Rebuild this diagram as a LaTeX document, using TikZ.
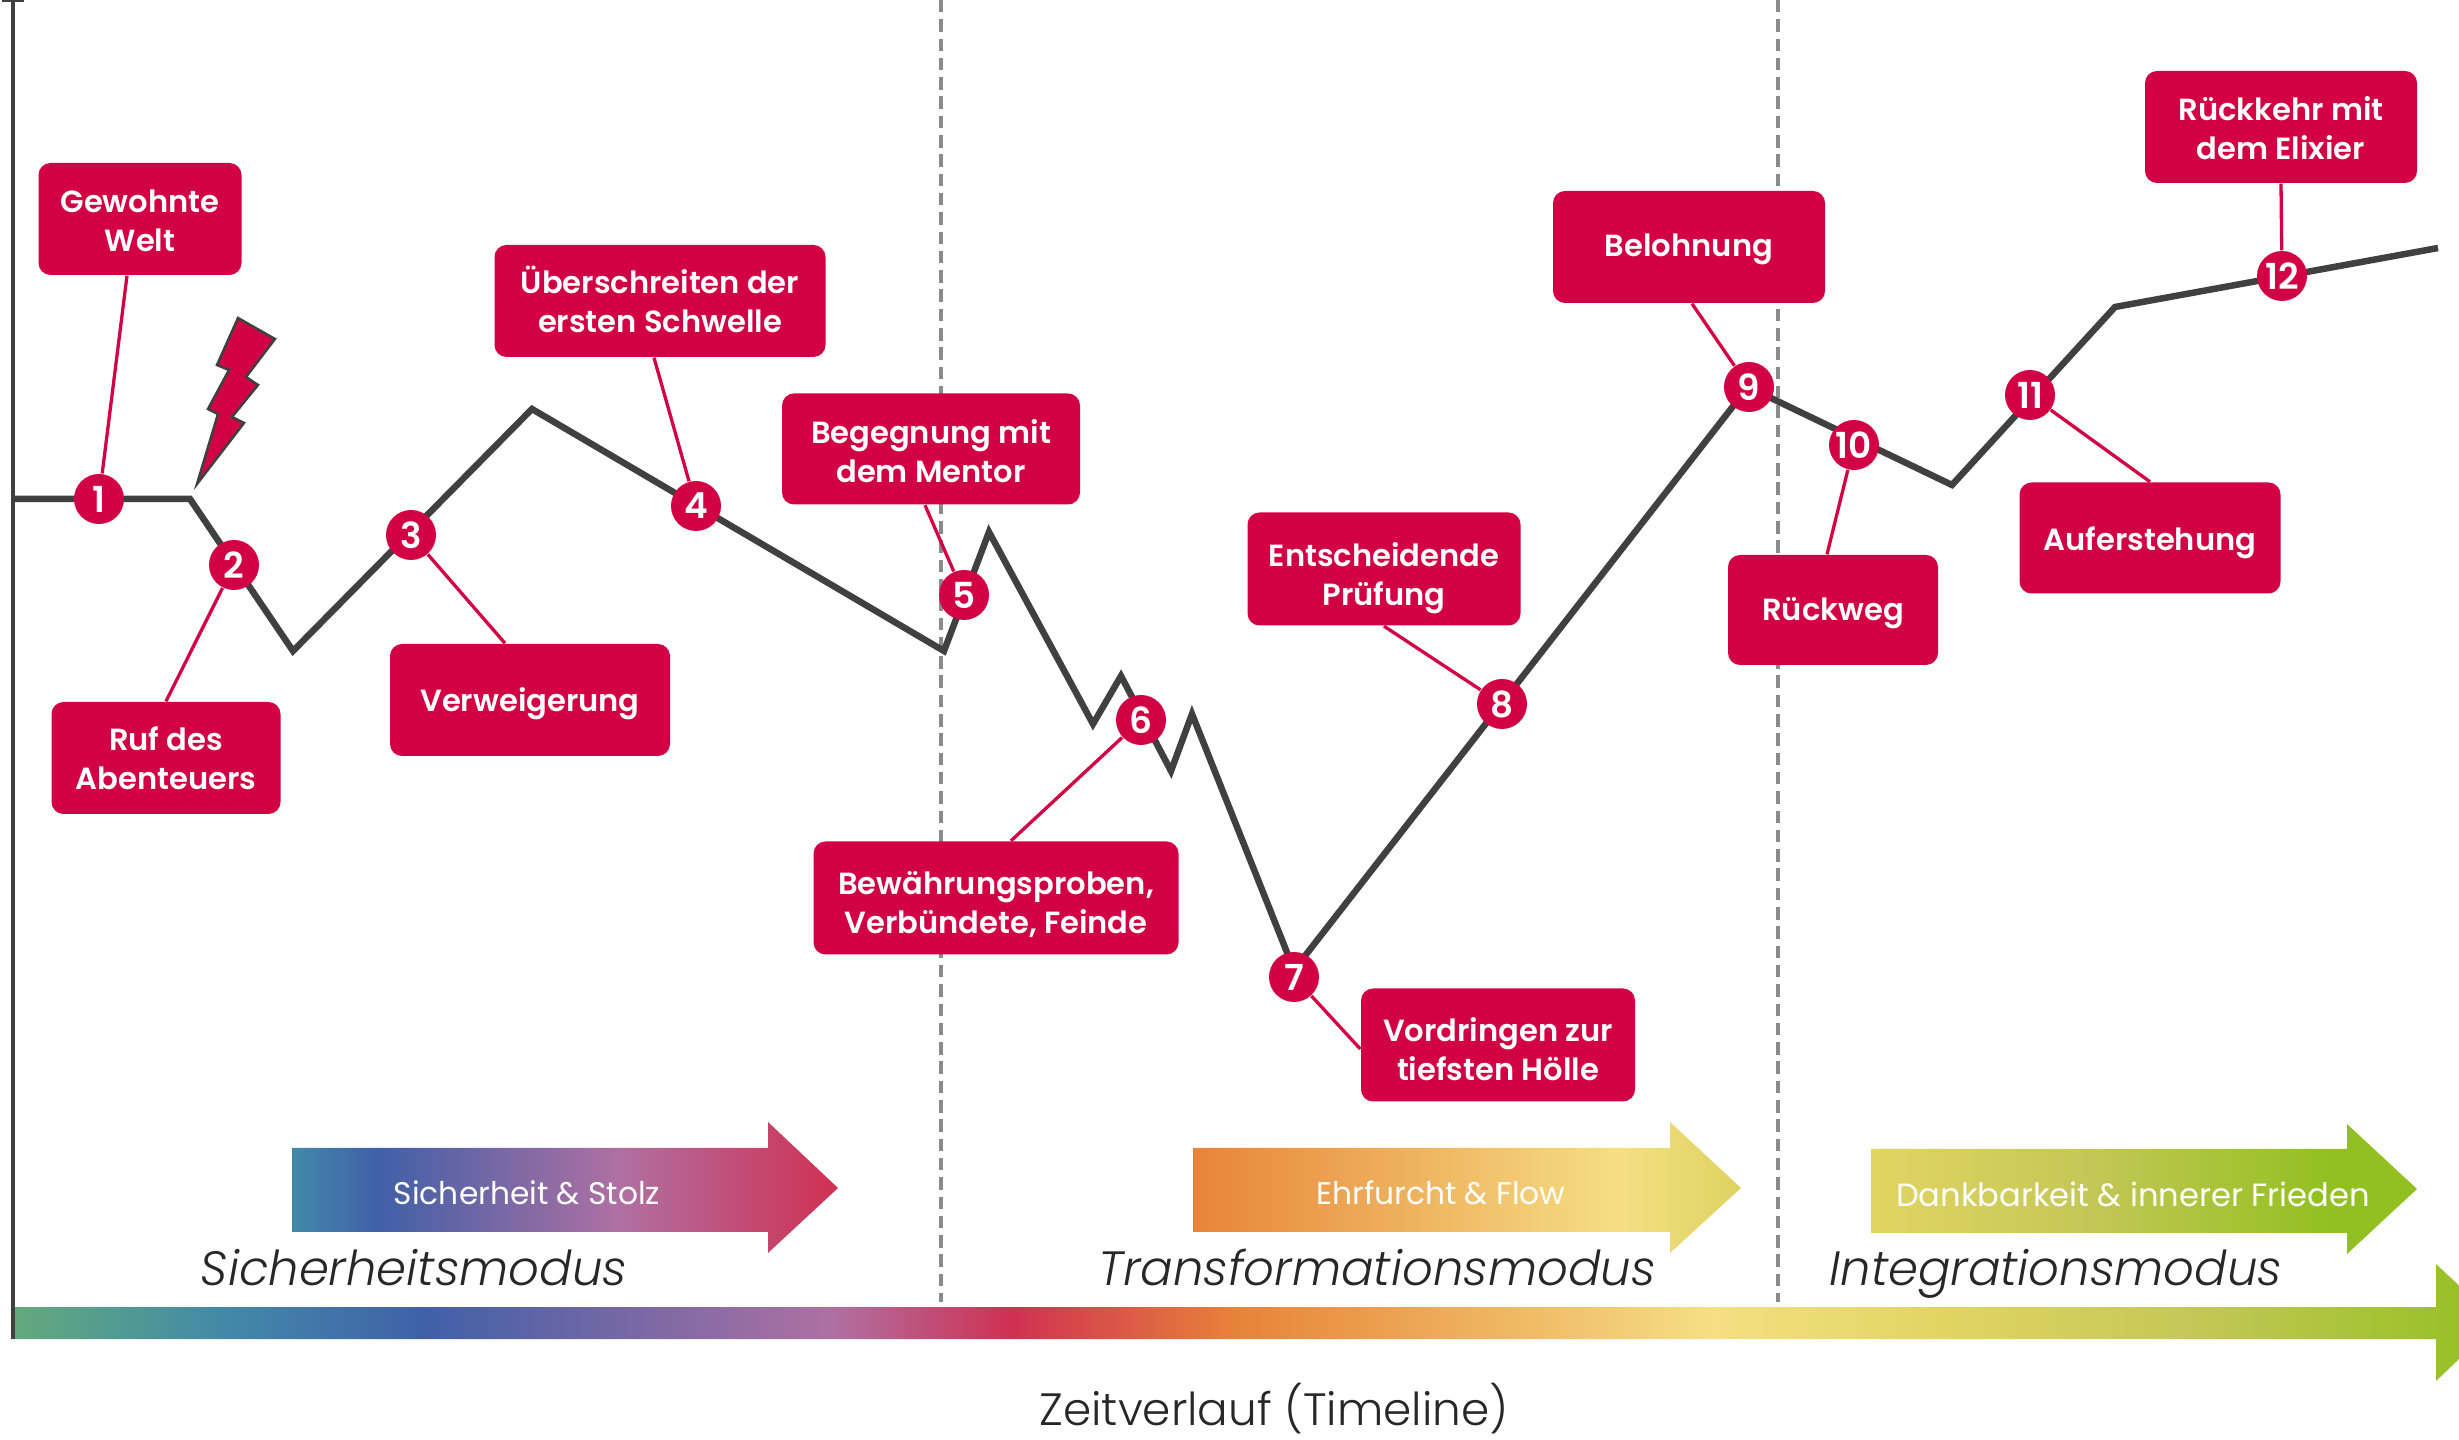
\documentclass[tikz,border=0pt]{standalone}
\usepackage{fontspec}
\setmainfont{Poppins}[UprightFont=* Medium,ItalicFont=* Light Italic]
\newfontfamily\thinfont{Poppins Light}
\newfontfamily\plainfont{Poppins}
\newfontfamily\boldfont{Poppins SemiBold}
\usetikzlibrary{positioning}

\definecolor{karmin}{HTML}{D20045}
\definecolor{dunkel}{HTML}{404040}
\definecolor{strich}{HTML}{8A8A8A}
\definecolor{gruen}{HTML}{62AA7C}
\definecolor{petrol}{HTML}{4289A9}
\definecolor{blau}{HTML}{4060A8}
\definecolor{lila}{HTML}{AF70A2}
\definecolor{rot}{HTML}{D03052}
\definecolor{orange}{HTML}{E8843A}
\definecolor{sand}{HTML}{F5DF82}
\definecolor{gelb}{HTML}{E2D562}
\definecolor{oliv}{HTML}{C4C756}
\definecolor{hellgruen}{HTML}{92C020}

\pgfdeclarehorizontalshading{verlaufA}{100bp}{color(0bp)=(petrol); color(25bp)=(petrol); color(33bp)=(blau); color(55bp)=(lila); color(75bp)=(rot); color(100bp)=(rot)}
\pgfdeclarehorizontalshading{verlaufB}{100bp}{color(0bp)=(orange); color(25bp)=(orange); color(64bp)=(sand); color(75bp)=(gelb!85!oliv); color(100bp)=(gelb)}
\pgfdeclarehorizontalshading{verlaufC}{100bp}{color(0bp)=(gelb); color(25bp)=(gelb); color(45bp)=(oliv); color(67bp)=(hellgruen); color(75bp)=(hellgruen); color(100bp)=(hellgruen)}
\pgfdeclarehorizontalshading{verlaufZeit}{100bp}{color(0bp)=(gruen); color(25bp)=(gruen); color(29.3bp)=(petrol); color(33.3bp)=(blau); color(41.5bp)=(lila); color(45.1bp)=(rot); color(49.7bp)=(orange); color(59.2bp)=(sand); color(63.7bp)=(gelb); color(68.9bp)=(oliv); color(75bp)=(hellgruen); color(100bp)=(hellgruen)}

\newcommand{\hoch}[1]{\rule{0pt}{#1}}

\tikzset{
  etappe/.style={fill=karmin, text=white, rounded corners=1.2mm, inner sep=0pt, align=center, font=\boldfont\fontsize{8.7}{11.1}\selectfont},
  punkt/.style={circle, fill=karmin, text=white, inner sep=0pt, minimum size=5mm, font=\boldfont\fontsize{10.2}{10.2}\selectfont},
  leine/.style={karmin, line width=0.33mm},
  weg/.style={dunkel, line width=0.65mm, line join=miter},
  trenner/.style={strich, line width=0.36mm, dash pattern=on 1.25mm off 0.68mm},
  modus/.style={text=dunkel!60!black, inner sep=0pt, anchor=base, font=\fontsize{13.7}{13.7}\itshape},
  gefuehl/.style={text=white, inner sep=0pt, font=\plainfont\fontsize{8.9}{8.9}\selectfont}
}

\begin{document}
\begin{tikzpicture}[x=0.1mm, y=-0.1mm]
\useasboundingbox (0,0) rectangle (2459,1440);
\clip (0,0) rectangle (2459,1440);
% Trennlinien
\draw[trenner] (941,0) -- (941,1302);
\draw[trenner] (1778,0) -- (1778,1302);
% Verlaufspfeile
\shade[shading=verlaufA] (292,1148) -- (768,1148) -- (768,1122) -- (838,1188) -- (768,1253) -- (768,1232) -- (292,1232) -- cycle;
\shade[shading=verlaufB] (1193,1148) -- (1670,1148) -- (1670,1122) -- (1741,1188) -- (1670,1253) -- (1670,1232) -- (1193,1232) -- cycle;
\shade[shading=verlaufC] (1871,1149) -- (2347,1149) -- (2347,1124) -- (2417,1189) -- (2347,1254) -- (2347,1233) -- (1871,1233) -- cycle;
% Zeitachse
\shade[shading=verlaufZeit] (13,1307) -- (2436,1307) -- (2436,1264) -- (2498,1322) -- (2436,1381) -- (2436,1339) -- (13,1339) -- cycle;
% Hochachse
\draw[dunkel, line width=0.4mm] (13,0) -- (13,1339);
\draw[dunkel, line width=0.15mm] (2,1) -- (24,1);
% Heldenreise
\draw[weg] (13,499) -- (190,499) -- (293,651) -- (532,409) -- (944,651) -- (989,532) -- (1093,724) -- (1121,676) -- (1171,771) -- (1192,714) -- (1294,970) -- (1748,387) -- (1952,485) -- (2115,307) -- (2438,248);
% Blitz
\draw[dunkel, fill=karmin, line width=0.25mm, miter limit=10] (238,318) -- (275,339) -- (246,377) -- (258,385) -- (232,417) -- (244,423) -- (197,484) -- (218,414) -- (208,409) -- (229,370) -- (217,365) -- cycle;
% Etappen
\node[etappe, minimum width=20.3mm, minimum height=11.2mm] (welt) at (140,219) {\hoch{7.6pt}Gewohnte\\Welt};
\node[etappe, minimum width=22.9mm, minimum height=11.2mm] (ruf) at (166,758) {Ruf des\\Abenteuers};
\node[etappe, minimum width=28mm, minimum height=11.2mm] (verweigerung) at (530,700) {\hoch{9pt}Verweigerung};
\node[etappe, minimum width=33.1mm, minimum height=11.2mm] (schwelle) at (660,301) {\smash{Ü}berschreiten der\\ersten Schwelle};
\node[etappe, minimum width=29.8mm, minimum height=11.1mm] (mentor) at (931,449) {\hoch{8.2pt}Begegnung mit\\dem Mentor};
\node[etappe, minimum width=36.5mm, minimum height=11.3mm] (proben) at (996,898) {\hoch{10pt}Bewährungsproben,\\Verbündete, Feinde};
\node[etappe, minimum width=27.4mm, minimum height=11.3mm] (hoelle) at (1498,1045) {\hoch{9.2pt}Vordringen zur\\tiefsten Hölle};
\node[etappe, minimum width=27.3mm, minimum height=11.3mm] (pruefung) at (1384,569) {\hoch{11.8pt}Entscheidende\\Prüfung};
\node[etappe, minimum width=27.2mm, minimum height=11.2mm] (belohnung) at (1689,247) {\hoch{7.6pt}Belohnung};
\node[etappe, minimum width=21mm, minimum height=11mm] (rueckweg) at (1833,610) {\hoch{8.4pt}Rückweg};
\node[etappe, minimum width=26.1mm, minimum height=11.1mm] (auferstehung) at (2150,538) {\hoch{9.6pt}Auferstehung};
\node[etappe, minimum width=27.2mm, minimum height=11.2mm] (elixier) at (2281,127) {\hoch{7.6pt}Rückkehr mit\\dem Elixier};
% Punkte
\node[punkt] (p1) at (99,499) {1};
\node[punkt] (p2) at (234,565) {2};
\node[punkt] (p3) at (411,535) {3};
\node[punkt] (p4) at (696,506) {4};
\node[punkt] (p5) at (964,595) {5};
\node[punkt] (p6) at (1141,720) {6};
\node[punkt] (p7) at (1294,977) {7};
\node[punkt] (p8) at (1502,704) {8};
\node[punkt] (p9) at (1749,387) {9};
\node[punkt] (p10) at (1854,445) {10};
\node[punkt] (p11) at (2030,395) {11};
\node[punkt] (p12) at (2282,276) {12};
% Verbindungen
\draw[leine] ([xshift=-1.3mm]welt.south) -- (p1);
\draw[leine] (ruf.north) -- (p2);
\draw[leine] ([xshift=-2.5mm]verweigerung.north) -- (p3);
\draw[leine] ([xshift=-0.6mm]schwelle.south) -- (p4);
\draw[leine] ([xshift=-0.6mm]mentor.south) -- (p5);
\draw[leine] ([xshift=1.5mm]proben.north) -- (p6);
\draw[leine] ([yshift=-0.4mm]hoelle.west) -- (p7);
\draw[leine] (pruefung.south) -- (p8);
\draw[leine] ([xshift=0.3mm]belohnung.south) -- (p9);
\draw[leine] ([xshift=-0.6mm]rueckweg.north) -- (p10);
\draw[leine] (auferstehung.north) -- (p11);
\draw[leine] (elixier.south) -- (p12);
% Texte
\node[gefuehl] (sicherheit) at (527,1193) {Sicherheit \& Stolz};
\node[gefuehl] (ehrfurcht) at (1441,1193) {Ehrfurcht \& Flow};
\node[gefuehl, font=\plainfont\fontsize{9.15}{9.15}\selectfont] (dank) at (2133,1194) {Dankbarkeit \& innerer Frieden};
\node[modus] (modusA) at (414,1285) {Sicherheitsmodus};
\node[modus] (modusB) at (1377,1285) {Transformationsmodus};
\node[modus] (modusC) at (2056,1285) {Integrationsmodus};
\node[modus, font=\thinfont\fontsize{12.9}{12.9}\selectfont] (zeit) at (1274,1425) {Zeitverlauf (Timeline)};
\end{tikzpicture}
\end{document}
